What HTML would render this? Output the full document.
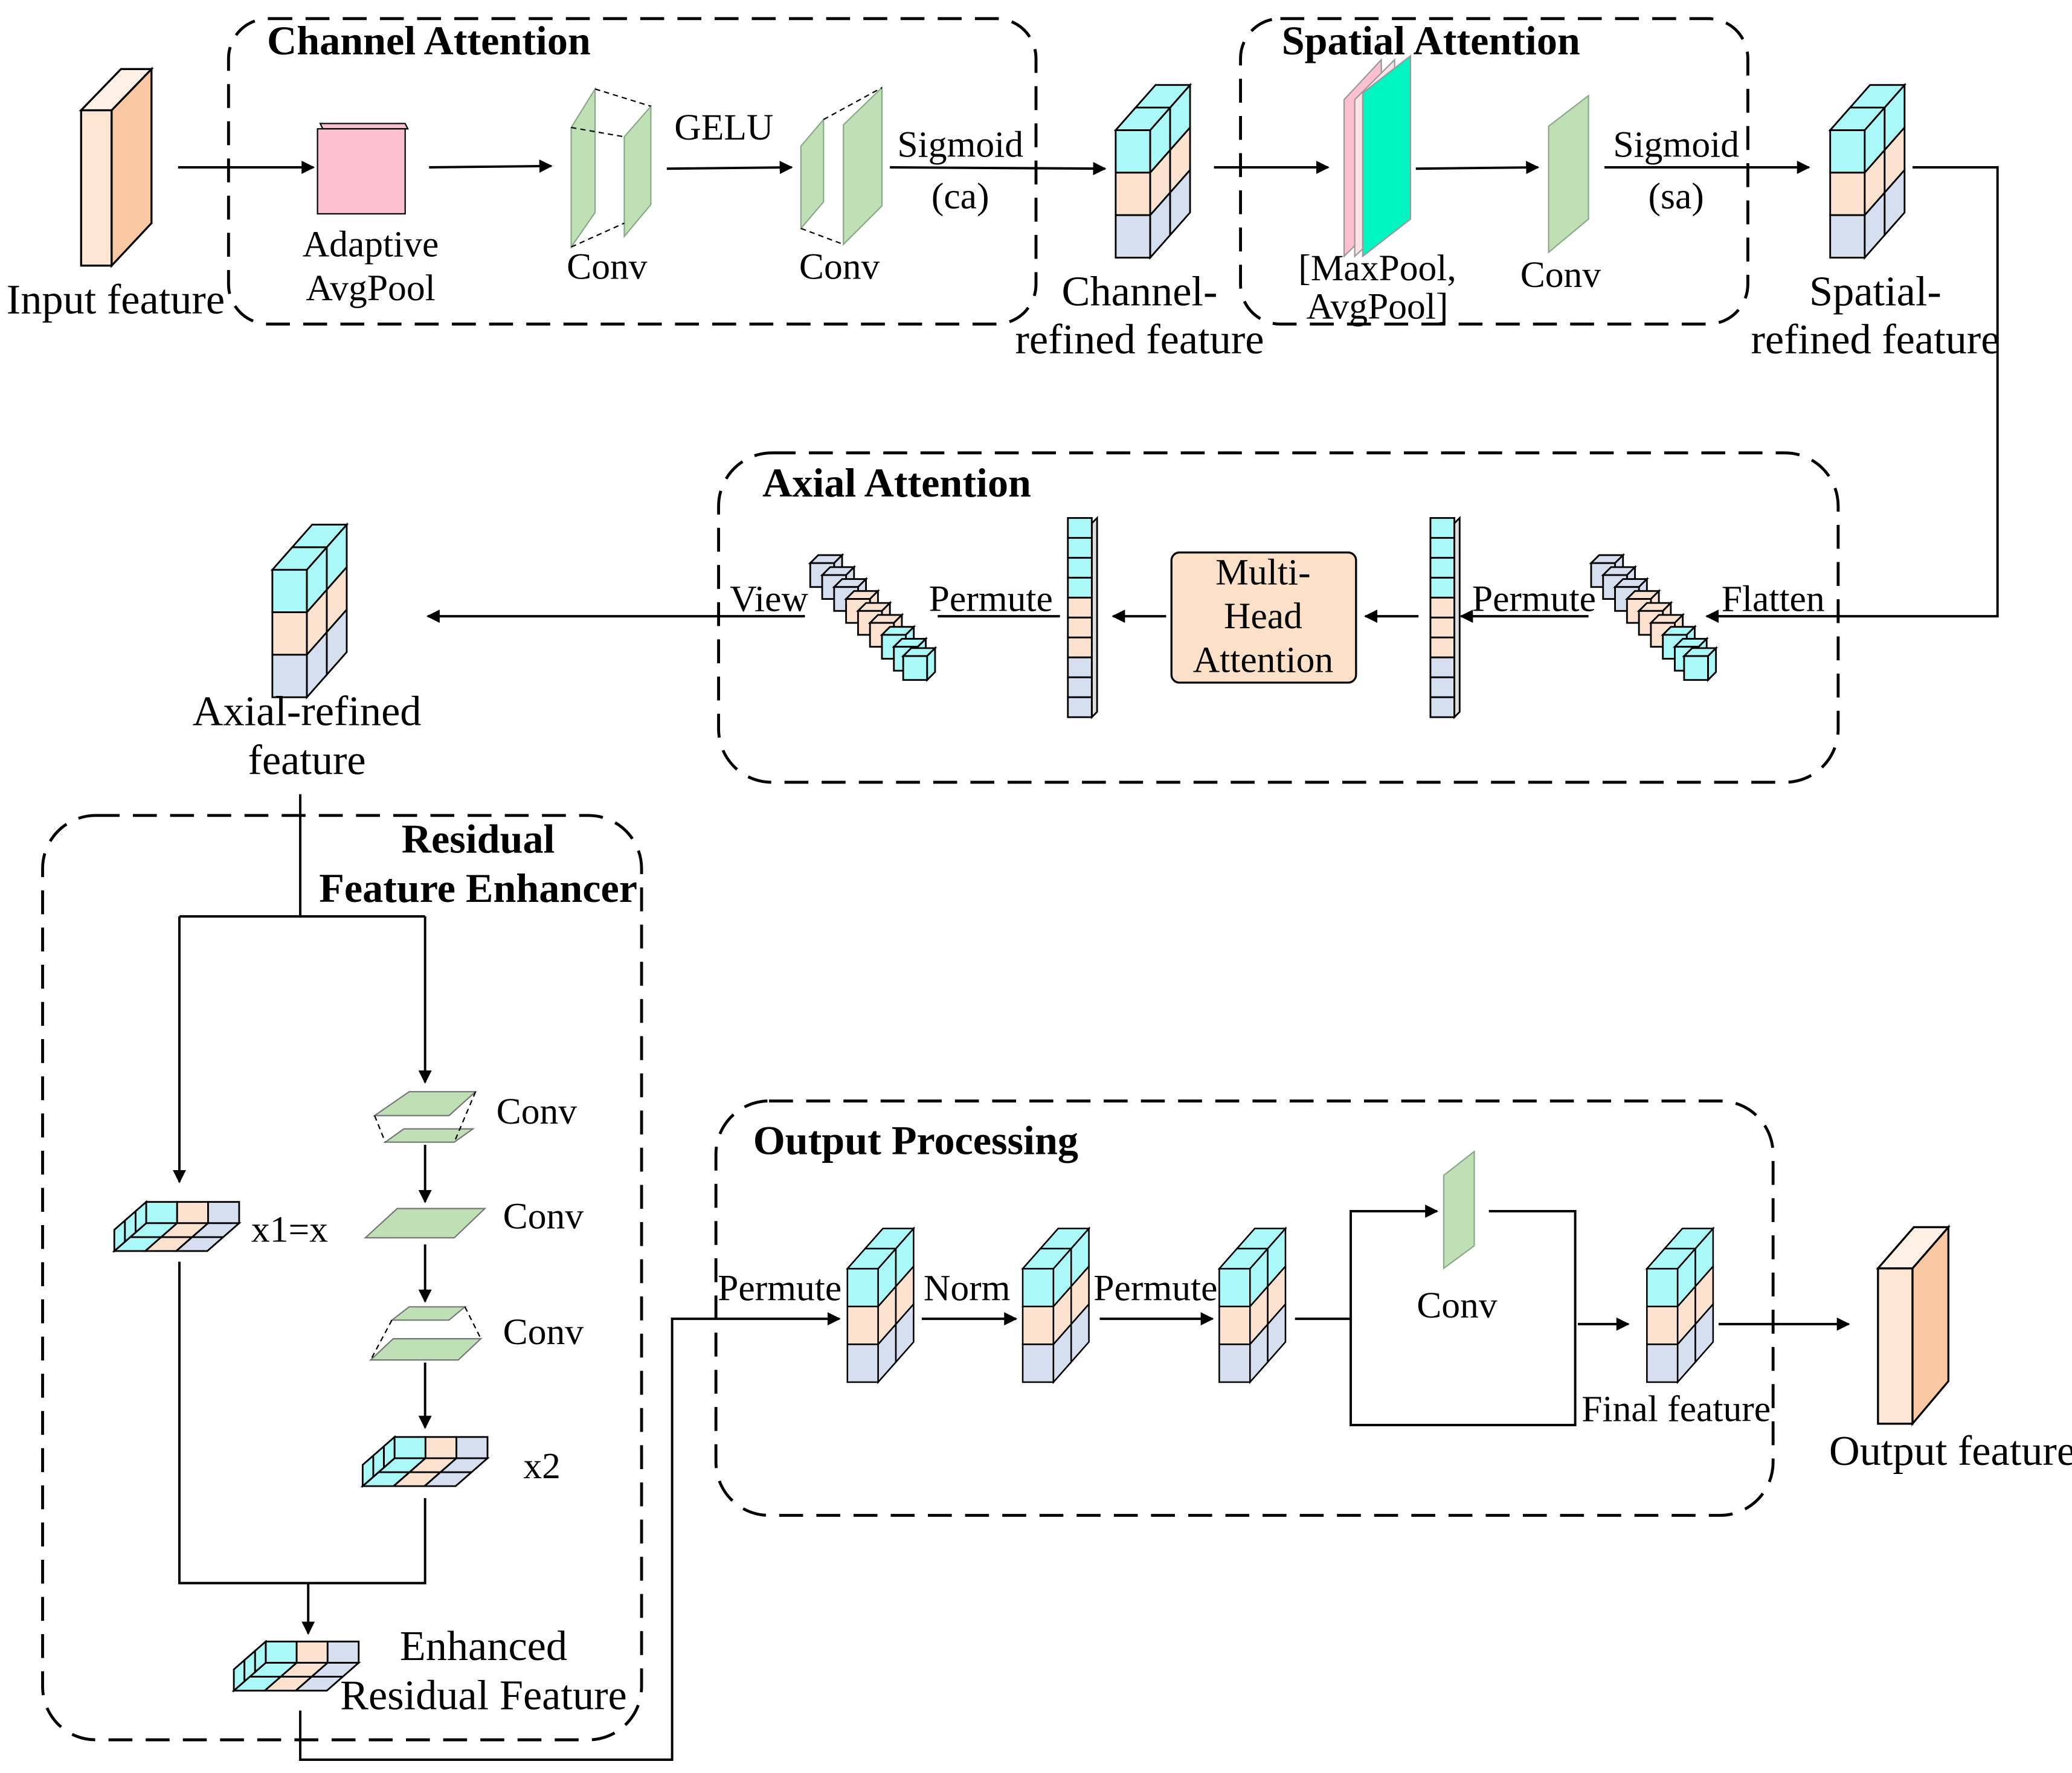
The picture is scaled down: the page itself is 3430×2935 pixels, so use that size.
<!DOCTYPE html>
<html><head><meta charset="utf-8"><style>
html,body{margin:0;padding:0;background:#fff}
svg{display:block}
text{font-family:"Liberation Serif",serif;fill:#000}
.t{font-size:28px;text-anchor:middle}
.L{font-size:32px}
.b{font-weight:bold;font-size:31px}
.box{fill:none;stroke:#000;stroke-width:2.2;stroke-dasharray:18 10}
.ln{fill:none;stroke:#000;stroke-width:1.8}
.e{stroke:#000;stroke-width:1.3}
</style></head><body>
<svg width="3430" height="2935" viewBox="0 0 1560 1335" xmlns="http://www.w3.org/2000/svg">
<defs>
<marker id="a" markerWidth="10" markerHeight="10" refX="9" refY="5" orient="auto" markerUnits="userSpaceOnUse"><path d="M0,0 L10,5 L0,10 z" fill="#000"/></marker>
<g id="cube">
<rect class="e" x="0" y="34" width="26" height="32" fill="#aaf8f8"/>
<rect class="e" x="0" y="66" width="26" height="32" fill="#fde3cf"/>
<rect class="e" x="0" y="98" width="26" height="32" fill="#d6dff0"/>
<polygon class="e" points="26,34 41,17 41,49 26,66" fill="#aaf8f8"/>
<polygon class="e" points="41,17 56,0 56,32 41,49" fill="#aaf8f8"/>
<polygon class="e" points="26,66 41,49 41,81 26,98" fill="#fde3cf"/>
<polygon class="e" points="41,49 56,32 56,64 41,81" fill="#fde3cf"/>
<polygon class="e" points="26,98 41,81 41,113 26,130" fill="#d6dff0"/>
<polygon class="e" points="41,81 56,64 56,96 41,113" fill="#d6dff0"/>
<polygon class="e" points="0,34 26,34 41,17 15,17" fill="#aaf8f8"/>
<polygon class="e" points="15,17 41,17 56,0 30,0" fill="#aaf8f8"/>
</g>
<g id="slab">
<rect class="e" x="24" y="0" width="23.3" height="16" fill="#aaf8f8"/>
<rect class="e" x="47.3" y="0" width="23.3" height="16" fill="#fde3cf"/>
<rect class="e" x="70.6" y="0" width="23.4" height="16" fill="#d6dff0"/>
<polygon class="e" points="24,16 47.3,16 23.3,37 0,37" fill="#aaf8f8"/>
<polygon class="e" points="47.3,16 70.6,16 46.6,37 23.3,37" fill="#fde3cf"/>
<polygon class="e" points="70.6,16 94,16 70,37 46.6,37" fill="#d6dff0"/>
<line class="e" x1="12" y1="26.5" x2="82" y2="26.5"/>
<polygon class="e" points="0,21 8,14 8,30 0,37" fill="#aaf8f8"/>
<polygon class="e" points="8,14 16,7 16,23 8,30" fill="#aaf8f8"/>
<polygon class="e" points="16,7 24,0 24,16 16,23" fill="#aaf8f8"/>
</g>
<g id="cell"><polygon class="e" points="0,6 6,0 24,0 18,6"/><polygon class="e" points="18,6 24,0 24,18 18,24"/><rect class="e" x="0" y="6" width="18" height="18"/></g>
<g id="diag">
<use href="#cell" x="0" y="0" fill="#d6dff0"/><use href="#cell" x="9" y="9" fill="#d6dff0"/><use href="#cell" x="18" y="18" fill="#d6dff0"/>
<use href="#cell" x="27" y="27" fill="#fde3cf"/><use href="#cell" x="36" y="36" fill="#fde3cf"/><use href="#cell" x="45" y="45" fill="#fde3cf"/>
<use href="#cell" x="54" y="54" fill="#aaf8f8"/><use href="#cell" x="63" y="63" fill="#aaf8f8"/><use href="#cell" x="70" y="70" fill="#aaf8f8"/>
</g>
<g id="col">
<polygon class="e" points="18,4 22,0 22,146 18,150" fill="#ddd"/>
<rect class="e" x="0" y="0" width="18" height="15" fill="#aaf8f8"/><rect class="e" x="0" y="15" width="18" height="15" fill="#aaf8f8"/><rect class="e" x="0" y="30" width="18" height="15" fill="#aaf8f8"/><rect class="e" x="0" y="45" width="18" height="15" fill="#aaf8f8"/>
<rect class="e" x="0" y="60" width="18" height="15" fill="#fde3cf"/><rect class="e" x="0" y="75" width="18" height="15" fill="#fde3cf"/><rect class="e" x="0" y="90" width="18" height="15" fill="#fde3cf"/>
<rect class="e" x="0" y="105" width="18" height="15" fill="#d6dff0"/><rect class="e" x="0" y="120" width="18" height="15" fill="#d6dff0"/><rect class="e" x="0" y="135" width="18" height="15" fill="#d6dff0"/>
</g>
</defs>

<!-- Input feature -->
<polygon points="61,83 84,83 84,200 61,200" fill="#fde5d3" stroke="#000" stroke-width="1.5"/>
<polygon points="84,83 114,52 114,168 84,200" fill="#fbc8a4" stroke="#000" stroke-width="1.5"/>
<polygon points="61,83 84,83 114,52 91,52" fill="#fff0e6" stroke="#000" stroke-width="1.5"/>
<text class="t L" x="87" y="236">Input feature</text>

<!-- Channel attention -->
<rect class="box" x="172" y="14" width="608" height="230" rx="30"/>
<text class="b" x="201" y="41">Channel Attention</text>
<line class="ln" x1="134" y1="126" x2="236" y2="126" marker-end="url(#a)"/>
<polygon points="243,97 307,97 305,93 241,93" fill="#fdc0d0" stroke="#000" stroke-width="1"/>
<rect x="239" y="97" width="66" height="64" fill="#fdc0d0" stroke="#000" stroke-width="1"/>
<text class="t" x="279" y="193">Adaptive</text><text class="t" x="279" y="226">AvgPool</text>
<line class="ln" x1="323" y1="126" x2="415" y2="125" marker-end="url(#a)"/>
<polygon points="430,96 448,67 448,160 430,186" fill="#bfe0b5" stroke="#8a8" stroke-width="1"/>
<polygon points="470,103 490,80 490,154 470,178" fill="#bfe0b5" stroke="#8a8" stroke-width="1"/>
<path d="M448,67 L490,80 M430,96 L470,103 M430,186 L470,168" stroke="#000" stroke-dasharray="4 3" fill="none"/>
<text class="t" x="457" y="210">Conv</text>
<text class="t" x="545" y="105">GELU</text>
<line class="ln" x1="502" y1="127" x2="596" y2="126" marker-end="url(#a)"/>
<polygon points="603,110 620,90 620,152 603,172" fill="#bfe0b5" stroke="#8a8" stroke-width="1"/>
<polygon points="635,94 664,66 664,155 635,184" fill="#bfe0b5" stroke="#8a8" stroke-width="1"/>
<path d="M620,90 L664,66 M603,172 L635,184" stroke="#000" stroke-dasharray="4 3" fill="none"/>
<text class="t" x="632" y="210">Conv</text>
<text class="t" x="723" y="118" font-size="32">Sigmoid</text><text class="t" x="723" y="157" font-size="32">(ca)</text>
<line class="ln" x1="670" y1="126" x2="832" y2="127" marker-end="url(#a)"/>
<use href="#cube" transform="translate(840,64)"/>
<text class="t L" x="858" y="230">Channel-</text><text class="t L" x="858" y="266">refined feature</text>

<!-- Spatial attention -->
<rect class="box" x="934" y="14" width="382" height="230" rx="30"/>
<text class="b" x="965" y="41">Spatial Attention</text>
<line class="ln" x1="914" y1="126" x2="1000" y2="126" marker-end="url(#a)"/>
<polygon points="1012,75 1040,45 1040,165 1012,193" fill="#fdc0d0" stroke="#999" stroke-width="1"/>
<polygon points="1020,75 1050,45 1050,165 1020,193" fill="#fde3e8" stroke="#999" stroke-width="1"/>
<polygon points="1026,70 1062,42 1062,165 1026,193" fill="#00f5c0" stroke="#999" stroke-width="1"/>
<text class="t" x="1037" y="211" font-size="21">[MaxPool,</text><text class="t" x="1037" y="240" font-size="21">AvgPool]</text>
<line class="ln" x1="1066" y1="127" x2="1158" y2="126" marker-end="url(#a)"/>
<polygon points="1166,95 1196,72 1196,165 1166,190" fill="#bfe0b5" stroke="#8a8" stroke-width="1"/>
<text class="t" x="1175" y="216">Conv</text>
<text class="t" x="1262" y="118" font-size="32">Sigmoid</text><text class="t" x="1262" y="157" font-size="32">(sa)</text>
<line class="ln" x1="1208" y1="126" x2="1362" y2="126" marker-end="url(#a)"/>
<use href="#cube" transform="translate(1378,64)"/>
<text class="t L" x="1412" y="230">Spatial-</text><text class="t L" x="1412" y="266">refined feature</text>
<polyline class="ln" points="1440,126 1504,126 1504,464 1285,464" marker-end="url(#a)"/>

<!-- Axial attention -->
<rect class="box" x="541" y="341" width="843" height="248" rx="40"/>
<text class="b" x="574" y="374">Axial Attention</text>
<text class="t" x="1335" y="460">Flatten</text>
<use href="#diag" transform="translate(1198,418)"/>
<line class="ln" x1="1196" y1="464" x2="1100" y2="464" marker-end="url(#a)"/>
<text class="t" x="1155" y="460">Permute</text>
<use href="#col" transform="translate(1077,390)"/>
<line class="ln" x1="1068" y1="464" x2="1028" y2="464" marker-end="url(#a)"/>
<rect x="882" y="416" width="139" height="98" rx="6" fill="#fde0c8" stroke="#000" stroke-width="1.5"/>
<text class="t" x="951" y="440">Multi-</text><text class="t" x="951" y="473">Head</text><text class="t" x="951" y="506">Attention</text>
<line class="ln" x1="878" y1="464" x2="838" y2="464" marker-end="url(#a)"/>
<use href="#col" transform="translate(804,390)"/>
<line class="ln" x1="798" y1="464" x2="706" y2="464"/>
<text class="t" x="746" y="460">Permute</text>
<use href="#diag" transform="translate(610,418)"/>
<line class="ln" x1="606" y1="464" x2="322" y2="464" marker-end="url(#a)"/>
<text class="t" x="579" y="460">View</text>
<use href="#cube" transform="translate(205,395)"/>
<text class="t L" x="231" y="546">Axial-refined</text><text class="t L" x="231" y="583">feature</text>

<!-- Residual -->
<rect class="box" x="32" y="614" width="451" height="696" rx="40"/>
<text class="b" x="360" y="642" text-anchor="middle">Residual</text>
<text class="b" x="360" y="679" text-anchor="middle">Feature Enhancer</text>
<polyline class="ln" points="226,598 226,690"/>
<polyline class="ln" points="135,690 320,690"/>
<polyline class="ln" points="135,690 135,890" marker-end="url(#a)"/>
<polyline class="ln" points="320,690 320,815" marker-end="url(#a)"/>
<polygon points="282,840 308,822 358,822 338,840" fill="#bfe0b5" stroke="#777" stroke-width="1"/>
<polygon points="290,860 304,850 356,850 342,860" fill="#bfe0b5" stroke="#777" stroke-width="1"/>
<path d="M282,840 L290,860 M358,822 L342,860" stroke="#000" stroke-dasharray="4 3" fill="none"/>
<text class="t" x="404" y="846">Conv</text>
<line class="ln" x1="320" y1="862" x2="320" y2="905" marker-end="url(#a)"/>
<polygon points="275,932 299,910 365,910 342,932" fill="#bfe0b5" stroke="#777" stroke-width="1"/>
<text class="t" x="409" y="925">Conv</text>
<line class="ln" x1="320" y1="937" x2="320" y2="980" marker-end="url(#a)"/>
<polygon points="295,994 308,984 350,984 338,994" fill="#bfe0b5" stroke="#777" stroke-width="1"/>
<polygon points="279,1024 296,1008 362,1008 345,1024" fill="#bfe0b5" stroke="#777" stroke-width="1"/>
<path d="M295,994 L279,1024 M350,984 L362,1008" stroke="#000" stroke-dasharray="4 3" fill="none"/>
<text class="t" x="409" y="1012">Conv</text>
<line class="ln" x1="320" y1="1026" x2="320" y2="1075" marker-end="url(#a)"/>
<use href="#slab" transform="translate(273,1082)"/>
<text class="t" x="408" y="1113">x2</text>
<use href="#slab" transform="translate(86,905)"/>
<text class="t" x="218" y="935">x1=x</text>
<polyline class="ln" points="135,950 135,1192 320,1192 320,1128"/>
<line class="ln" x1="232" y1="1192" x2="232" y2="1230" marker-end="url(#a)"/>
<use href="#slab" transform="translate(176,1236)"/>
<text class="t L" x="364" y="1250">Enhanced</text><text class="t L" x="364" y="1287">Residual Feature</text>
<polyline class="ln" points="226,1288 226,1325 506,1325 506,993 632,993" marker-end="url(#a)"/>

<!-- Output processing -->
<rect class="box" x="539" y="829" width="796" height="312" rx="40"/>
<text class="b" x="567" y="869">Output Processing</text>
<text class="t" x="587" y="979">Permute</text>
<use href="#cube" transform="translate(638,925) scale(0.89)"/>
<line class="ln" x1="694" y1="993" x2="765" y2="993" marker-end="url(#a)"/>
<text class="t" x="728" y="979">Norm</text>
<use href="#cube" transform="translate(770,925) scale(0.89)"/>
<line class="ln" x1="828" y1="993" x2="913" y2="993" marker-end="url(#a)"/>
<text class="t" x="870" y="979">Permute</text>
<use href="#cube" transform="translate(918,925) scale(0.89)"/>
<polyline class="ln" points="975,993 1017,993 1017,912 1082,912" marker-end="url(#a)"/>
<polygon points="1087,885 1110,867 1110,938 1087,955" fill="#bfe0b5" stroke="#8a8" stroke-width="1"/>
<polyline class="ln" points="1121,912 1186,912 1186,1073 1017,1073 1017,993"/>
<text class="t" x="1097" y="992">Conv</text>
<line class="ln" x1="1188" y1="997" x2="1226" y2="997" marker-end="url(#a)"/>
<use href="#cube" transform="translate(1240,925) scale(0.89)"/>
<text class="t" x="1262" y="1070">Final feature</text>
<line class="ln" x1="1294" y1="997" x2="1392" y2="997" marker-end="url(#a)"/>
<polygon points="1414,955 1440,955 1440,1072 1414,1072" fill="#fde5d3" stroke="#000" stroke-width="1.5"/>
<polygon points="1440,955 1467,924 1467,1040 1440,1072" fill="#fbc8a4" stroke="#000" stroke-width="1.5"/>
<polygon points="1414,955 1440,955 1467,924 1441,924" fill="#fff0e6" stroke="#000" stroke-width="1.5"/>
<text class="t L" x="1470" y="1103">Output feature</text>
</svg>
</body></html>
